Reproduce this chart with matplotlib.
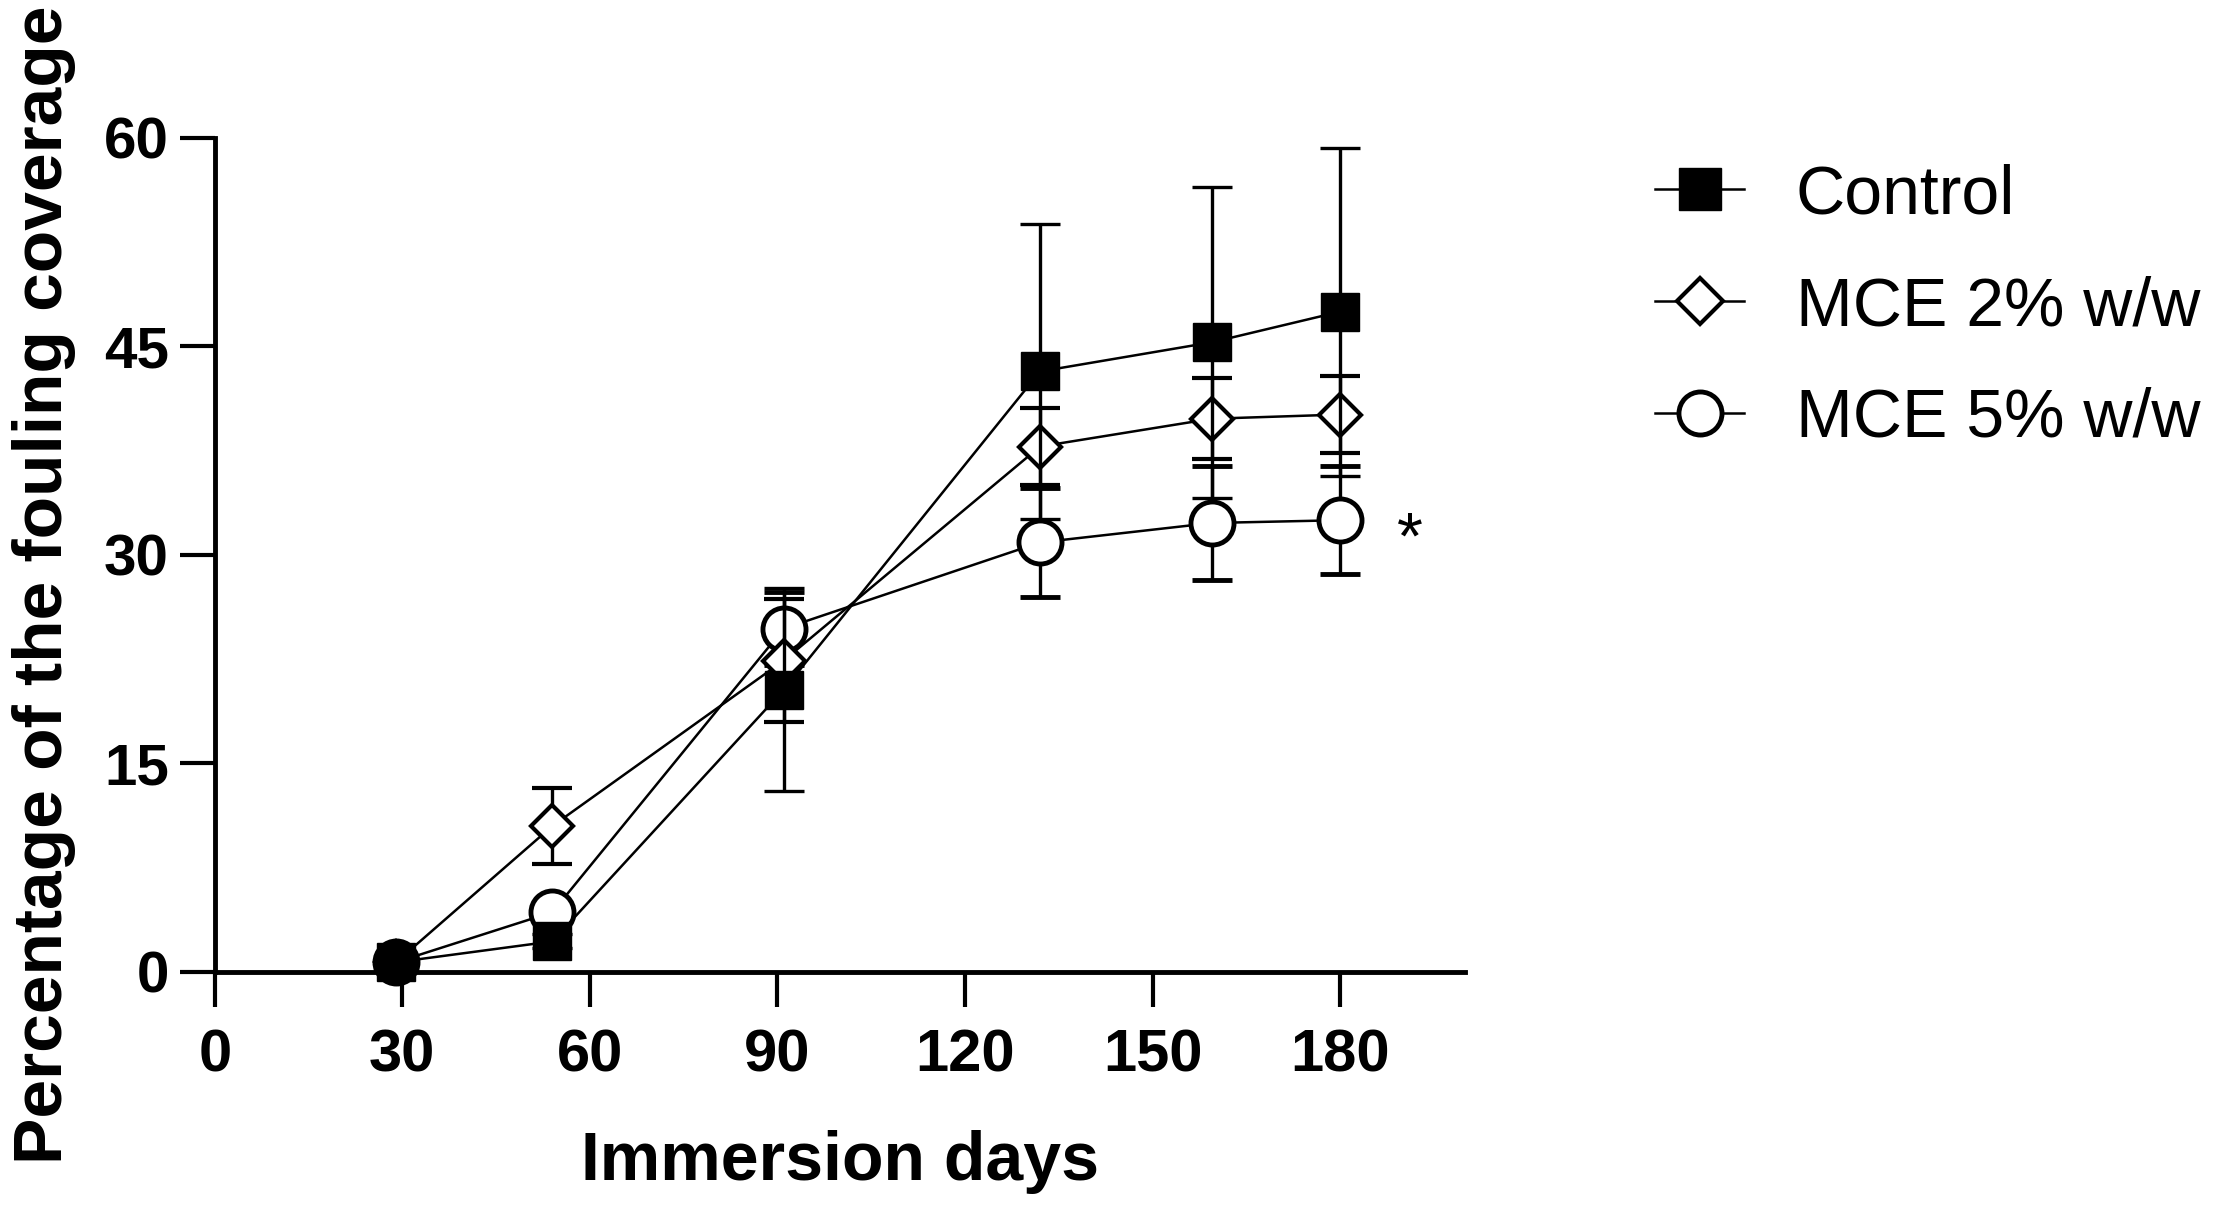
import numpy as np
import matplotlib
matplotlib.use("Agg")
import matplotlib.pyplot as plt
from matplotlib.lines import Line2D

plt.rcParams['font.family'] = ['Liberation Sans', 'DejaVu Sans']

days = [29, 54, 91, 132, 159.5, 180]

control = [0.7, 2.2, 20.3, 43.2, 45.3, 47.5]
control_err = [0.5, 0.5, 7.3, 10.6, 11.2, 11.8]

mce2 = [0.7, 10.5, 22.4, 37.8, 39.8, 40.1]
mce2_err = [0.5, 2.7, 4.4, 2.8, 2.9, 2.8]

mce5 = [0.7, 4.3, 24.7, 30.9, 32.3, 32.5]
mce5_err = [0.4, 0.6, 2.6, 3.9, 4.1, 3.9]

labels = ['Control', 'MCE 2% w/w', 'MCE 5% w/w']

fig = plt.figure(figsize=(22.14, 12.13), dpi=100)
ax = fig.add_axes([0.097, 0.1987, 0.5648, 0.6876])

common = dict(color='black', ecolor='black', elinewidth=2.4, capsize=14.5,
              capthick=2.4, linewidth=1.8, clip_on=False)

ax.errorbar(days, control, yerr=control_err, marker='s', markersize=27,
            markerfacecolor='black', markeredgecolor='black', zorder=5,
            **common)
ax.errorbar(days, mce2, yerr=mce2_err, marker='D', markersize=21,
            markerfacecolor='white', markeredgecolor='black',
            markeredgewidth=3, zorder=4, **common)
ax.errorbar(days, mce5, yerr=mce5_err, marker='o', markersize=31,
            markerfacecolor='white', markeredgecolor='black',
            markeredgewidth=3.5, zorder=3, **common)

# significance mark next to the last MCE 5% point
ax.text(191.2, 31.0, '*', fontsize=48, ha='center', va='center')

ax.set_xlim(0, 200)
ax.set_ylim(0, 60)
ax.set_xticks([0, 30, 60, 90, 120, 150, 180])
ax.set_yticks([0, 15, 30, 45, 60])

ax.spines['top'].set_visible(False)
ax.spines['right'].set_visible(False)
for s in ['left', 'bottom']:
    ax.spines[s].set_linewidth(3.5)
ax.tick_params(axis='both', direction='out', length=25, width=3)
ax.tick_params(axis='x', labelsize=43, pad=16)
ax.tick_params(axis='y', labelsize=42, pad=8)
for t in ax.get_xticklabels() + ax.get_yticklabels():
    t.set_fontweight('bold')

ax.set_xlabel('Immersion days', fontsize=49, fontweight='bold')
ax.set_ylabel('Percentage of the fouling coverage', fontsize=50,
              fontweight='bold')
ax.xaxis.set_label_coords(0.5, -0.19)
ax.yaxis.set_label_coords(-0.111, 0.464)

handles = [
    Line2D([], [], color='black', linewidth=1.8, marker='s', markersize=30,
           markerfacecolor='black', markeredgecolor='black'),
    Line2D([], [], color='black', linewidth=1.8, marker='D', markersize=23,
           markerfacecolor='white', markeredgecolor='black',
           markeredgewidth=3),
    Line2D([], [], color='black', linewidth=1.8, marker='o', markersize=31,
           markerfacecolor='white', markeredgecolor='black',
           markeredgewidth=3.5),
]
fig.legend(handles, labels, loc='upper left',
           bbox_to_anchor=(0.7475, 0.8656), frameon=False, fontsize=49,
           handlelength=1.31, handletextpad=0.76, labelspacing=0.705,
           borderpad=0, borderaxespad=0)

fig.savefig('out.png', dpi=100)
